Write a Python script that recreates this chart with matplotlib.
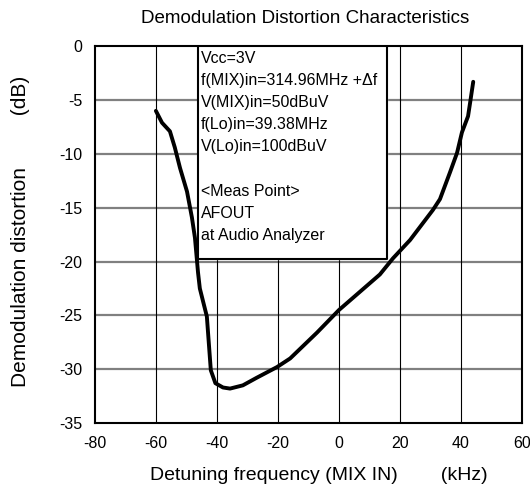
import numpy as np
import matplotlib.pyplot as plt

plt.rcParams['font.family'] = ['Liberation Sans', 'DejaVu Sans']
plt.rcParams['axes.unicode_minus'] = False

# curve
freq_khz = [-60, -58, -55.4, -53.8, -52.1, -49.8, -48.2, -47.2, -46.2, -45.6,
            -43.3, -42, -40.5, -38, -35.7, -31.5, -27, -20.3, -16, -7.2,
            0, 13.4, 17.7, 23.3, 30.8, 33.1, 36.4, 38.7, 40.3, 42.3, 43, 44]
distortion_db = [-6.0, -7.1, -7.9, -9.4, -11.3, -13.5, -15.9, -17.8, -21.0, -22.5,
                 -25.1, -30.1, -31.3, -31.7, -31.8, -31.5, -30.8, -29.8, -29.0, -26.6,
                 -24.5, -21.2, -19.7, -18.0, -15.2, -14.2, -11.7, -9.9, -8.0, -6.5, -5.2, -3.3]

xticks = [-80, -60, -40, -20, 0, 20, 40, 60]
yticks = [0, -5, -10, -15, -20, -25, -30, -35]

note_lines = ["Vcc=3V",
              "f(MIX)in=314.96MHz +\u0394f",
              "V(MIX)in=50dBuV",
              "f(Lo)in=39.38MHz",
              "V(Lo)in=100dBuV",
              "",
              "<Meas Point>",
              "AFOUT",
              "at Audio Analyzer"]

fig = plt.figure(figsize=(5.3, 5.03), dpi=100)
ax = fig.add_axes([0.179, 0.159, 0.806, 0.749])

ax.set_xlim(-80, 60)
ax.set_ylim(-35, 0)
ax.set_xticks(xticks)
ax.set_yticks(yticks)
ax.tick_params(length=0, labelsize=11.5, pad=9)

for y in yticks[1:-1]:
    ax.axhline(y, color='#808080', lw=1.6, zorder=1)
for x in xticks[1:-1]:
    ax.axvline(x, color='black', lw=0.8, zorder=1)

for s in ax.spines.values():
    s.set_linewidth(1.5)

# note box
bx0, bx1, by0 = -46.2, 15.7, -19.8
ax.fill([bx0, bx1, bx1, bx0], [by0, by0, 0, 0], color='white', zorder=2)
ax.plot([bx0, bx0, bx1, bx1], [0, by0, by0, 0], color='black', lw=1.5, zorder=3)
for i, line in enumerate(note_lines):
    ax.text(bx0 + 0.9, -0.45 - i * 2.05, line, fontsize=11.5, va='top', ha='left', zorder=4)

ax.plot(freq_khz, distortion_db, color='black', lw=2.8, zorder=5,
        solid_capstyle='round', solid_joinstyle='round')

fig.text(0.575, 0.963, "Demodulation Distortion Characteristics", ha='center', va='center', fontsize=13.5)
ax.set_xlabel("Detuning frequency (MIX IN)        (kHz)", fontsize=14, labelpad=12)
ax.set_ylabel("Demodulation distortion         (dB)", fontsize=15, labelpad=21)
ax.xaxis.label.set_x(0.525)
ax.yaxis.label.set_y(0.51)

fig.savefig('out.png', dpi=100)
